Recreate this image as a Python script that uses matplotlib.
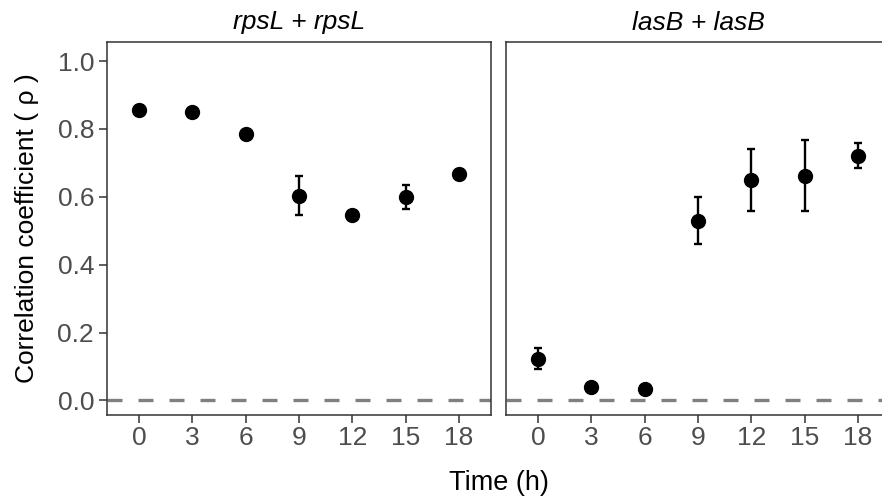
import matplotlib
matplotlib.use("Agg")
import matplotlib.pyplot as plt
import numpy as np

plt.rcParams['font.family'] = ['Liberation Sans', 'DejaVu Sans']

times = ["0", "3", "6", "9", "12", "15", "18"]
panels = ["rpsL + rpsL", "lasB + lasB"]
rps_mean = [0.856, 0.849, 0.784, 0.603, 0.545, 0.598, 0.666]
rps_lo = [0.852, 0.845, 0.780, 0.546, 0.541, 0.563, 0.662]
rps_hi = [0.860, 0.853, 0.788, 0.660, 0.549, 0.634, 0.670]
las_mean = [0.122, 0.040, 0.034, 0.530, 0.648, 0.660, 0.721]
las_lo = [0.093, 0.036, 0.030, 0.461, 0.558, 0.557, 0.686]
las_hi = [0.154, 0.044, 0.038, 0.599, 0.741, 0.768, 0.757]
yticks = [0.0, 0.2, 0.4, 0.6, 0.8, 1.0]

fig = plt.figure(figsize=(8.82, 5.0), dpi=100)
W, H = 882, 500
def pos(l, t, r, b):
    return [l / W, 1 - b / H, (r - l) / W, (b - t) / H]

ax1 = fig.add_axes(pos(107, 42, 491, 415))
ax2 = fig.add_axes(pos(506, 42, 890, 415))

border = '#333333'
tickc = '#4D4D4D'
for ax, name, m, lo, hi in [(ax1, panels[0], rps_mean, rps_lo, rps_hi),
                            (ax2, panels[1], las_mean, las_lo, las_hi)]:
    x = np.arange(len(times))
    m = np.array(m); lo = np.array(lo); hi = np.array(hi)
    ax.axhline(0, color='#808080', lw=2.4, ls=(0, (4.5, 4.8)), zorder=1)
    ax.errorbar(x, m, yerr=[m - lo, hi - m], fmt='none', ecolor='black',
                elinewidth=1.7, capsize=3.2, capthick=1.7, zorder=2)
    ax.plot(x, m, 'o', color='black', ms=10, zorder=3)
    ax.set_xlim(-0.6, len(times) - 0.4)
    ax.set_ylim(-0.043, 1.056)
    ax.set_xticks(x)
    ax.set_xticklabels(times)
    ax.set_yticks(yticks)
    ax.set_yticklabels([f"{v:.1f}" for v in yticks])
    for s in ax.spines.values():
        s.set_color(border)
        s.set_linewidth(1.1)
    ax.tick_params(colors=border, labelcolor=tickc, labelsize=19, length=5.8, width=1.1, pad=3.5)
    ax.tick_params(axis='x', pad=2)
    ax.set_title(name, fontsize=19, style='italic', pad=9)

ax2.tick_params(axis='y', left=False, labelleft=False)
ax1.set_ylabel("Correlation coefficient ( ρ )", fontsize=19, labelpad=13)
fig.text((107 + 890) / 2 / W, 1 - 483 / H, "Time (h)", fontsize=19.5, ha='center', va='center')

fig.savefig("out.png", dpi=100)
